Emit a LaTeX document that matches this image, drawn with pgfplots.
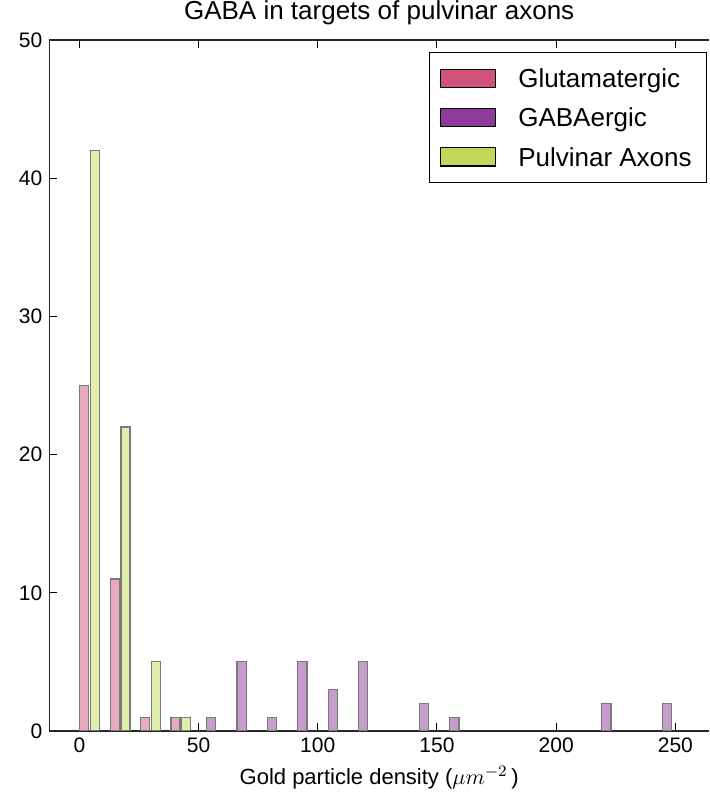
\documentclass[border=0pt]{standalone}
\usepackage{pgfplots}
\pgfplotsset{compat=1.18}
\usepackage{fontspec}
\setmainfont{Liberation Sans}
\definecolor{pinkD}{HTML}{D0547A}
\definecolor{purpD}{HTML}{8E3A9A}
\definecolor{grnD}{HTML}{C3D85A}
\definecolor{pinkL}{HTML}{E8AABD}
\definecolor{purpL}{HTML}{C69DCD}
\definecolor{grnL}{HTML}{E2ECAD}
\definecolor{edgeC}{HTML}{7A7A7A}
\begin{document}
\begin{tikzpicture}
\begin{axis}[
  scale only axis, width=329.85pt, height=345.5pt,
  xmin=-12.6, xmax=264.1, ymin=0, ymax=50,
  axis x line*=box, axis y line*=left,
  tick align=inside,
  xtick={0,50,...,250}, ytick={0,10,...,50},
  minor tick num=0,
  major tick length=3.8pt,
  every tick/.style={black, line width=0.5pt},
  axis line style={line width=0.75pt, black!85},
  /pgf/number format/assume math mode=true,
  ticklabel style={font=\fontsize{10.5}{12}\selectfont},
  title={GABA in targets of pulvinar axons},
  title style={font=\fontsize{13}{15.6}\selectfont, yshift=-2pt},
  xlabel={Gold particle density ($\mu m^{-2}$\,)},
  xlabel style={font=\fontsize{11}{13}\selectfont},
  legend style={at={(1,1)}, anchor=north east, xshift=-1.15pt, yshift=-6.15pt,
    draw=black, line width=0.6pt, fill=white,
    inner xsep=5.2pt, inner ysep=4.8pt, row sep=3.6pt,
    font=\fontsize{13}{15.6}\selectfont,
    nodes={inner sep=2pt, text height=10.65pt, text depth=1.35pt},
    /tikz/every odd column/.append style={column sep=9.15pt}},
  legend cell align=left,
  legend image code/.code={\draw[#1, line width=0.6pt] (0pt,-4.575pt) rectangle (27.5pt,4.575pt);},
]
\addplot[ybar, bar width=3.8, bar shift=0pt, fill=pinkL, draw=edgeC, line width=0.6pt, forget plot]
  coordinates {(2.1,25) (14.85,11) (27.6,1) (40.35,1)};
\addplot[ybar, bar width=3.8, bar shift=0pt, fill=purpL, draw=edgeC, line width=0.6pt, forget plot]
  coordinates {(55.3,1) (68.05,5) (80.8,1) (93.55,5) (106.3,3) (119.05,5) (144.55,2) (157.3,1) (221.05,2) (246.55,2)};
\addplot[ybar, bar width=3.8, bar shift=0pt, fill=grnL, draw=edgeC, line width=0.6pt, forget plot]
  coordinates {(6.6,42) (19.35,22) (32.1,5) (44.85,1)};
\addlegendimage{fill=pinkD, draw=black}
\addlegendentry{Glutamatergic}
\addlegendimage{fill=purpD, draw=black}
\addlegendentry{GABAergic}
\addlegendimage{fill=grnD, draw=black}
\addlegendentry{Pulvinar Axons}
\coordinate (BL) at (rel axis cs:0,0);
\coordinate (TR) at (rel axis cs:1,1);
\end{axis}
\pgfresetboundingbox
\useasboundingbox ([xshift=-24.65pt,yshift=-31.5pt]BL) rectangle ([yshift=20pt]TR);
\end{tikzpicture}
\end{document}
